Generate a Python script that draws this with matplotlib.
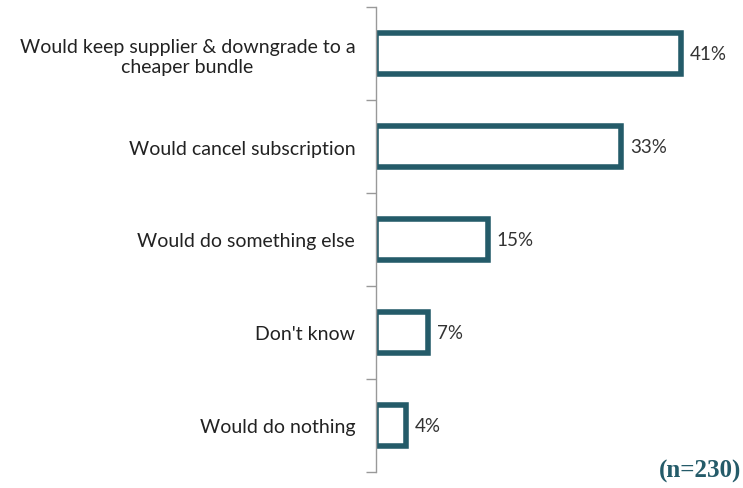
import matplotlib.pyplot as plt

categories = ["Would keep supplier & downgrade to a\ncheaper bundle",
              "Would cancel subscription",
              "Would do something else",
              "Don't know",
              "Would do nothing"]
values = [41, 33, 15, 7, 4]
labels = ["41%", "33%", "15%", "7%", "4%"]

teal = "#245B69"

fig = plt.figure(figsize=(7.43, 4.89), dpi=100)
ax = fig.add_axes([376 / 743, 1 - 473 / 489, 357 / 743, 465 / 489])

pos = list(range(len(categories)))
ax.barh(pos, values, height=0.45, color="white", edgecolor=teal, linewidth=4)
for p, v, t in zip(pos, values, labels):
    ax.text(v + 1.2, p, t, va="center", ha="left", fontsize=13.5,
            family="Lato", color="#333333")

ax.set_xlim(0, 48)
ax.set_ylim(len(categories) - 0.5, -0.5)
ax.set_yticks(pos)
ax.set_yticklabels(categories, fontsize=14, family="Lato", color="#222222")
ax.tick_params(axis="y", length=0, pad=15)
# boundary ticks between categories
ax.set_yticks([i - 0.5 for i in range(len(categories) + 1)], minor=True)
ax.tick_params(axis="y", which="minor", length=7, color="#999999", width=1)
for lab in ax.get_yticklabels():
    lab.set_multialignment("center")

ax.set_xticks([])
for s in ["top", "right", "bottom"]:
    ax.spines[s].set_visible(False)
ax.spines["left"].set_color("#999999")
ax.spines["left"].set_linewidth(1)

fig.text(0.997, 0.035, "(n=230)", ha="right", va="center", fontsize=18,
         fontweight="bold", family="Liberation Serif", color=teal)

fig.savefig("out.png", dpi=100)
